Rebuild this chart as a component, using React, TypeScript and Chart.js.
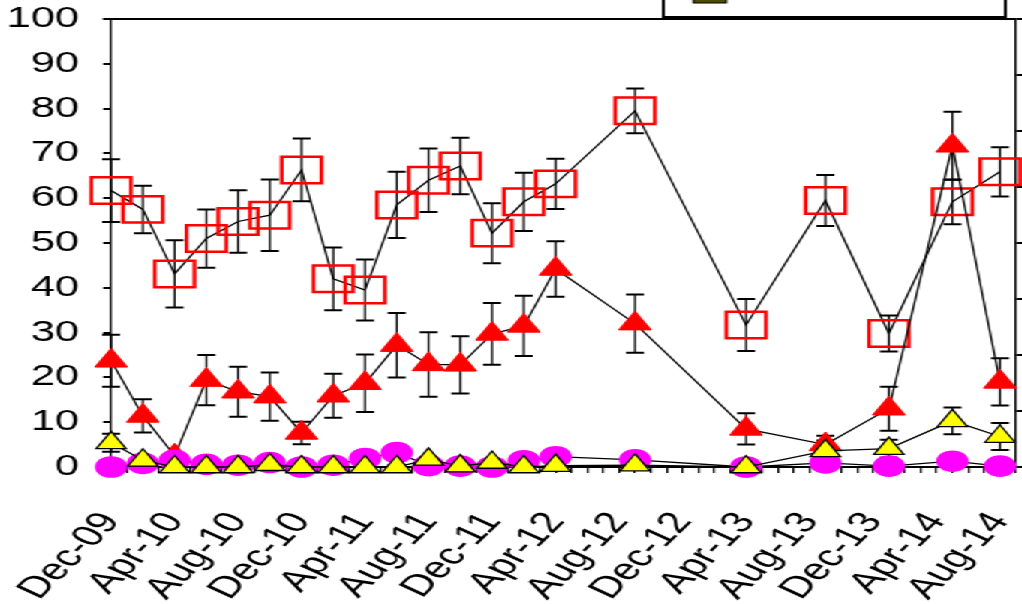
import React, { useEffect, useRef } from 'react';
import { Chart, registerables } from 'chart.js';

Chart.register(...registerables);

// months since Dec-09
const months = [0, 2, 4, 6, 8, 10, 12, 14, 16, 18, 20, 22, 24, 26, 28, 33, 40, 45, 49, 53, 56];
const xTickLabels = ['Dec-09', 'Apr-10', 'Aug-10', 'Dec-10', 'Apr-11', 'Aug-11', 'Dec-11', 'Apr-12', 'Aug-12', 'Dec-12', 'Apr-13', 'Aug-13', 'Dec-13', 'Apr-14', 'Aug-14'];
const monthTicks = [0, 1, 2, 3, 4, 5, 6, 7, 8, 9, 10, 11, 12, 13, 14, 15, 16, 17, 18, 19, 20, 21, 22, 23, 24, 25, 26, 27, 28, 29, 30, 31, 32, 33, 34, 35, 36, 37, 38, 39, 40, 41, 42, 43, 44, 45, 46, 47, 48, 49, 50, 51, 52, 53, 54, 55, 56, 57];

const squareVals = [61.7, 57.5, 43.1, 51, 54.8, 56.2, 66.3, 42, 39.5, 58.5, 64, 67.2, 52.2, 59.2, 63.2, 79.5, 31.7, 59.5, 29.8, 59.2, 65.9];
const squareErr = [7, 5.3, 7.5, 6.5, 7, 8, 7, 7, 6.8, 7.4, 7.1, 6.3, 6.7, 6.5, 5.6, 5, 5.8, 5.7, 4, 5, 5.5];

const redVals = [23.7, 11.4, 2.5, 19.4, 16.8, 15.7, 7.6, 15.9, 18.7, 27.2, 22.9, 22.8, 29.7, 31.5, 44.2, 32, 8.5, 5, 13, 71.7, 19];
const redErr = [5.8, 3.7, 0, 5.6, 5.6, 5.4, 2.5, 4.9, 6.4, 7.2, 7.2, 6.4, 6.9, 6.7, 6.2, 6.5, 3.5, 2, 4.9, 7.6, 5.3];

const yellowVals = [5.4, 1.5, 0, 0, 0, 0.5, 0, 0, 0, 0, 1.7, 0.2, 1, 0, 0.3, 0.4, 0, 3.6, 4.1, 10.3, 6.8];
const yellowErr = [2, 0.5, 0.5, 0.5, 0.5, 0.5, 0.5, 0.5, 0.5, 0.5, 0.5, 0.5, 0.5, 0.5, 0.5, 0.5, 0.3, 2.3, 2, 3, 3];

const magentaVals = [0, 0.8, 1.5, 0.6, 0.4, 1, 0, 0.4, 1.9, 3.2, 0.3, 0.2, 0, 1.4, 2.3, 1.6, 0, 0.9, 0.2, 1.3, 0.2];

const rightTicks = [0, 10, 20, 30, 40, 50, 60, 70, 80];

const errorSeries = [
  { vals: squareVals, errs: squareErr },
  { vals: redVals, errs: redErr },
  { vals: yellowVals, errs: yellowErr },
];

const FONT = { family: '"Liberation Sans", Arial, sans-serif', size: 29 };
const XFONT = { family: '"Liberation Sans", Arial, sans-serif', size: 30 };

const toPts = (vals: number[]) => vals.map((v, i) => ({ x: months[i], y: v }));

const errorBarPlugin = {
  id: 'errorBars',
  beforeDatasetsDraw(chart: any) {
    const { ctx, scales } = chart;
    const xs = scales.x;
    const ys = scales.y;
    ctx.save();
    ctx.strokeStyle = '#000';
    errorSeries.forEach((s) => {
      s.vals.forEach((v, i) => {
        const e = s.errs[i];
        if (!e) return;
        const px = xs.getPixelForValue(months[i]);
        const yt = ys.getPixelForValue(v + e);
        const yb = ys.getPixelForValue(v - e);
        ctx.lineWidth = 1.3;
        ctx.beginPath();
        ctx.moveTo(px, yt);
        ctx.lineTo(px, yb);
        ctx.stroke();
        ctx.lineWidth = 2;
        ctx.beginPath();
        ctx.moveTo(px - 6, yt);
        ctx.lineTo(px + 6, yt);
        ctx.moveTo(px - 6, yb);
        ctx.lineTo(px + 6, yb);
        ctx.stroke();
      });
    });
    ctx.restore();
  },
};

const framePlugin = {
  id: 'frame',
  afterDraw(chart: any) {
    const { ctx, chartArea } = chart;
    ctx.save();
    ctx.strokeStyle = '#000';
    ctx.lineWidth = 2;
    ctx.beginPath();
    ctx.moveTo(chartArea.left - 5.3, chartArea.top);
    ctx.lineTo(chartArea.right, chartArea.top);
    ctx.stroke();
    // legend box, mostly above the canvas
    ctx.fillStyle = '#fff';
    ctx.fillRect(442, -20, 228, 37);
    ctx.lineWidth = 2;
    ctx.strokeRect(442, -20, 228, 37);
    ctx.fillStyle = '#4d4d00';
    ctx.fillRect(462, -10, 22, 13);
    ctx.lineWidth = 1;
    ctx.strokeRect(462, -10, 22, 13);
    ctx.restore();
  },
};

export default function App() {
  const ref = useRef<HTMLCanvasElement | null>(null);
  useEffect(() => {
    if (!ref.current) return;
    const common = {
      borderColor: '#000',
      borderWidth: 1.3,
      tension: 0,
      fill: false,
      clip: false as any,
    };
    const chart = new Chart(ref.current, {
      type: 'line',
      data: {
        datasets: [
          {
            ...common,
            label: 'yellow',
            data: toPts(yellowVals),
            pointStyle: 'triangle',
            pointRadius: 11.5,
            pointBackgroundColor: '#ffff00',
            pointBorderColor: '#000',
            pointBorderWidth: 1.3,
            order: 0,
          },
          {
            ...common,
            label: 'magenta',
            data: toPts(magentaVals),
            pointStyle: 'circle',
            pointRadius: 10.8,
            pointBackgroundColor: '#ff00ff',
            pointBorderColor: '#ff00ff',
            pointBorderWidth: 0,
            order: 1,
          },
          {
            ...common,
            label: 'red',
            data: toPts(redVals),
            pointStyle: 'triangle',
            pointRadius: 12.5,
            pointBackgroundColor: '#ff0000',
            pointBorderColor: '#ff0000',
            pointBorderWidth: 1,
            order: 2,
          },
          {
            ...common,
            label: 'squares',
            data: toPts(squareVals),
            pointStyle: 'rect',
            pointRadius: 18.7,
            pointBackgroundColor: 'rgba(0,0,0,0)',
            pointBorderColor: '#ff0000',
            pointBorderWidth: 2.5,
            order: 3,
          },
        ],
      },
      options: {
        animation: false,
        responsive: false,
        maintainAspectRatio: false,
        layout: { autoPadding: false, padding: { top: 19, left: 0, right: 0, bottom: 0 } },
        plugins: { legend: { display: false }, tooltip: { enabled: false } },
        elements: { point: { hoverRadius: 0 } },
        scales: {
          x: {
            type: 'linear',
            min: 0,
            max: 57,
            afterBuildTicks: (s: any) => {
              s.ticks = monthTicks.map((v) => ({ value: v }));
            },
            afterFit: (s: any) => {
              s.height = 137;
              s.paddingLeft = 0;
              s.paddingRight = 0;
            },
            ticks: {
              autoSkip: false,
              maxRotation: 55.5,
              minRotation: 55.5,
              padding: 33,
              color: '#000',
              font: XFONT,
              callback: (v: any) => (Number(v) % 4 === 0 ? xTickLabels[Number(v) / 4] : ''),
            },
            grid: { drawOnChartArea: false, drawTicks: true, tickLength: 6, color: '#000', lineWidth: 1.3 },
            border: { display: true, color: '#000', width: 2 },
          },
          y: {
            position: 'left',
            min: 0,
            max: 100,
            afterFit: (s: any) => {
              s.width = 74;
              s.paddingTop = 0;
              s.paddingBottom = 0;
            },
            ticks: { stepSize: 10, color: '#000', font: FONT, padding: 16 },
            grid: { drawOnChartArea: false, drawTicks: true, tickLength: 5.3, color: '#000', lineWidth: 2 },
            border: { display: true, color: '#000', width: 1.4 },
          },
          y2: {
            position: 'right',
            min: 0,
            max: 80,
            afterBuildTicks: (s: any) => {
              s.ticks = rightTicks.map((v) => ({ value: v }));
            },
            afterFit: (s: any) => {
              s.width = 4;
              s.paddingTop = 0;
              s.paddingBottom = 0;
            },
            ticks: { display: false },
            grid: { drawOnChartArea: false, drawTicks: true, tickLength: 4, color: '#000', lineWidth: 2 },
            border: { display: true, color: '#000', width: 1.4 },
          },
        },
      },
      plugins: [errorBarPlugin, framePlugin],
    } as any);
    return () => chart.destroy();
  }, []);
  return (
    <div
      style={{
        position: 'absolute',
        left: 0,
        top: 0,
        width: 681,
        height: 604,
        transform: 'scaleX(1.5007)',
        transformOrigin: '0 0',
        background: '#fff',
      }}
    >
      <canvas ref={ref} width={681} height={604} style={{ display: 'block' }} />
    </div>
  );
}
